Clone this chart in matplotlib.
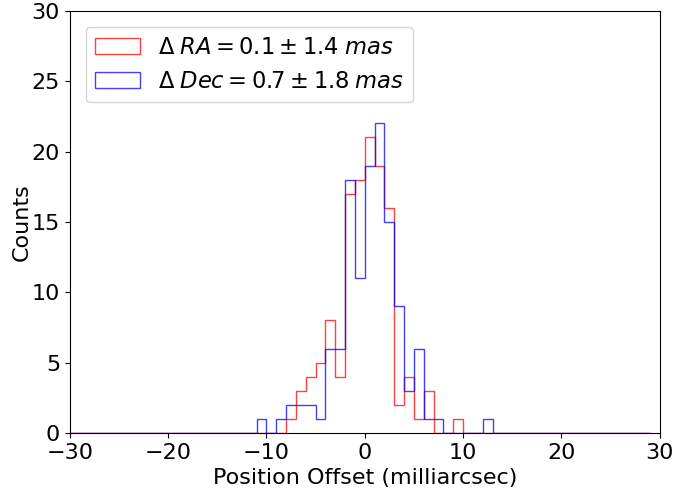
"""Histogram of position offsets in RA and Dec."""

import matplotlib
matplotlib.use('Agg')
import matplotlib.pyplot as plt
import numpy as np


# Bin left edges and counts (milliarcsec)
ra_bins = [-8, -7, -6, -5, -4, -3, -2, -1, 0, 1, 2, 3, 4, 5, 6, 9]
ra_counts = [1, 3, 4, 5, 8, 4, 17, 18, 21, 19, 16, 2, 4, 1, 3, 1]

dec_bins = [-11, -9, -8, -7, -6, -5, -4, -3, -2, -1, 0, 1, 2, 3, 4, 5, 6, 7, 12]
dec_counts = [1, 1, 2, 2, 2, 1, 6, 6, 18, 11, 19, 22, 15, 9, 3, 6, 1, 1, 1]

ra_label = r'$\Delta \; RA = 0.1 \pm 1.4 \; mas$'
dec_label = r'$\Delta \; Dec = 0.7 \pm 1.8 \; mas$'


def main():
    plt.rcParams['font.size'] = 16
    edges = np.arange(-30, 30, 1)

    fig, ax = plt.subplots(figsize=(6.78, 4.91), dpi=100)
    ax.hist(np.array(ra_bins) + 0.5, bins=edges, weights=ra_counts,
            histtype='step', color='red', alpha=0.75, label=ra_label)
    ax.hist(np.array(dec_bins) + 0.5, bins=edges, weights=dec_counts,
            histtype='step', color='blue', alpha=0.75, label=dec_label)

    ax.set_xlim(-30, 30)
    ax.set_ylim(0, 30)
    ax.set_xlabel('Position Offset (milliarcsec)')
    ax.set_ylabel('Counts', labelpad=0)
    ax.legend(loc='upper left', borderaxespad=0.7, fontsize=16.3)

    fig.subplots_adjust(left=0.103, right=0.973, bottom=0.118, top=0.978)
    fig.savefig('out.png')


if '__main__' == __name__:
    main()
